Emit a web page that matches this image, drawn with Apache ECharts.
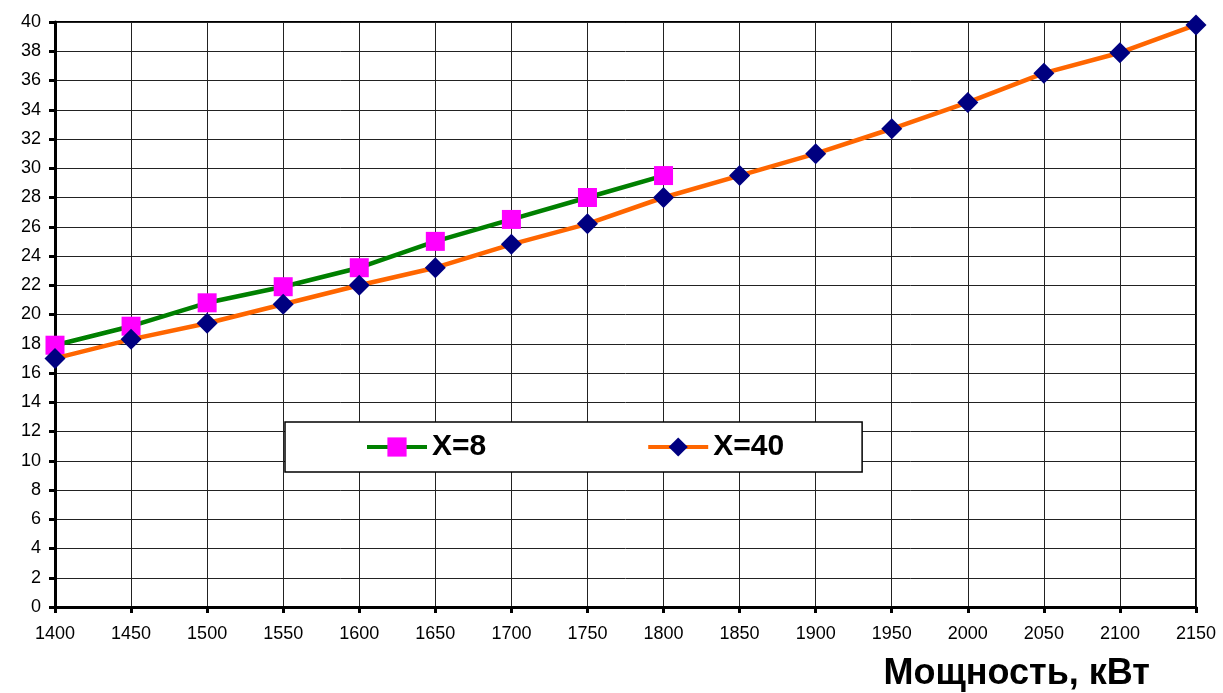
<!DOCTYPE html>
<html>
<head>
<meta charset="utf-8">
<script src="https://cdn.jsdelivr.net/npm/echarts@6/dist/echarts.min.js"></script>
<style>
html,body{margin:0;padding:0;background:#fff;}
#chart{width:1223px;height:693px;}
</style>
</head>
<body>
<div id="chart"></div>
<script>
// Data
const power = [1400, 1450, 1500, 1550, 1600, 1650, 1700, 1750, 1800, 1850, 1900, 1950, 2000, 2050, 2100, 2150];
const x8Values = [17.9, 19.2, 20.8, 21.9, 23.2, 25.0, 26.5, 28.0, 29.5];
const x40Values = [17.0, 18.3, 19.4, 20.7, 22.0, 23.2, 24.8, 26.2, 28.0, 29.5, 31.0, 32.7, 34.5, 36.5, 37.9, 39.8];
const seriesNames = ['X=8', 'X=40'];
const xAxisTitle = 'Мощность, кВт';

const pairs = (vals) => vals.map((v, i) => [power[i], v]);
const FONT = 'Arial, "Liberation Sans", sans-serif';

const chart = echarts.init(document.getElementById('chart'), null, {renderer: 'canvas'});
chart.setOption({
  animation: false,
  backgroundColor: '#fff',
  textStyle: {fontFamily: FONT},
  grid: {
    left: 55, right: 27, top: 22, bottom: 86,
    show: true, borderColor: '#000', borderWidth: 2, backgroundColor: 'transparent'
  },
  title: {
    text: xAxisTitle,
    right: 73, top: 656,
    padding: 0,
    textStyle: {fontSize: 36, fontWeight: 'bold', color: '#000', fontFamily: FONT}
  },
  legend: {
    left: 285, top: 422,
    padding: [10, 78, 10, 80],
    itemGap: 160,
    itemWidth: 60, itemHeight: 24,
    backgroundColor: '#fff',
    borderColor: '#000', borderWidth: 1.5,
    lineStyle: {width: 4},
    textStyle: {fontSize: 30, fontWeight: 'bold', color: '#000', fontFamily: FONT},
    data: seriesNames
  },
  xAxis: {
    type: 'value',
    min: 1400, max: 2150, interval: 50,
    axisLine: {show: true, lineStyle: {color: '#000', width: 3}},
    axisTick: {show: true, length: 6, lineStyle: {color: '#000', width: 3}},
    axisLabel: {margin: 18, fontSize: 18, color: '#000', formatter: (v) => String(v)},
    splitLine: {show: true, lineStyle: {color: '#222', width: 1}}
  },
  yAxis: {
    type: 'value',
    min: 0, max: 40, interval: 2,
    axisLine: {show: true, lineStyle: {color: '#000', width: 3}},
    axisTick: {show: true, length: 6, lineStyle: {color: '#000', width: 3}},
    axisLabel: {margin: 14, fontSize: 18, color: '#000'},
    splitLine: {show: true, lineStyle: {color: '#222', width: 1}}
  },
  series: [
    {
      name: seriesNames[0],
      type: 'line',
      data: pairs(x8Values),
      symbol: 'rect', symbolSize: 19,
      lineStyle: {color: '#008000', width: 4.5},
      itemStyle: {color: '#FF00FF', borderWidth: 0},
      z: 3
    },
    {
      name: seriesNames[1],
      type: 'line',
      data: pairs(x40Values),
      symbol: 'diamond', symbolSize: 21,
      lineStyle: {color: '#FF6600', width: 4.5},
      itemStyle: {color: '#000080', borderWidth: 0},
      z: 4
    }
  ]
});
</script>
</body>
</html>
